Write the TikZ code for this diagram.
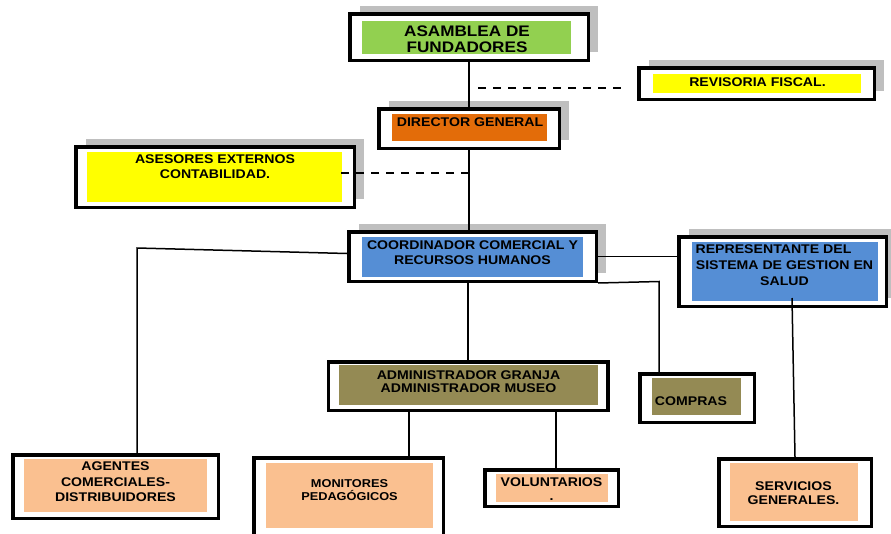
\documentclass[tikz,border=0pt]{standalone}
\usepackage{fontspec}
\setmainfont[FakeStretch=1.12]{Liberation Sans}
\usetikzlibrary{shadows}
\definecolor{grn}{HTML}{92D050}
\definecolor{ylw}{HTML}{FFFF00}
\definecolor{org}{HTML}{E36C09}
\definecolor{blu}{HTML}{558ED5}
\definecolor{olv}{HTML}{948A54}
\definecolor{pch}{HTML}{FAC090}

\begin{document}
\begin{tikzpicture}[x=1pt,y=-1pt,
	fram/.style={draw, line width=3.5pt, fill=white, inner sep=0pt},
	shad/.style={general shadow={fill=black!25, shadow xshift=10pt, shadow yshift=8pt}},
	pane/.style={inner sep=0pt},
	txt/.style={font=\bfseries\fontsize{12.6}{15}\selectfont, align=center, inner sep=0pt},
	lin/.style={line width=1.5pt},
	dsh/.style={line width=1.5pt, dash pattern=on 8pt off 7pt}]
	\useasboundingbox (0,0) rectangle (891,533);
	\node [fram, shad, minimum width=238.5pt, minimum height=46.5pt] (asam) at (469,37) {};
	\node [pane, fill=grn, minimum width=209pt, minimum height=33pt] (asam-f) at (466.5,37.5) {};
	\node [txt, font=\bfseries\fontsize{15.3}{16}\selectfont] (asam-t) at (467,39) {ASAMBLEA DE\\FUNDADORES};
	\node [fram, shad, minimum width=235.5pt, minimum height=31.5pt] (rev) at (756.5,83.5) {};
	\node [pane, fill=ylw, minimum width=208pt, minimum height=19pt] (rev-f) at (757,83.5) {};
	\node [txt] (rev-t) at (757.5,82.5) {REVISORIA FISCAL.};
	\node [fram, shad, minimum width=180.5pt, minimum height=39.5pt] (dir) at (469,128.5) {};
	\node [pane, fill=org, minimum width=155pt, minimum height=27pt] (dir-f) at (469.5,127.5) {};
	\node [txt] (dir-t) at (470,122) {DIRECTOR GENERAL};
	\node [fram, shad, minimum width=278.5pt, minimum height=60.5pt] (ases) at (215,177) {};
	\node [pane, fill=ylw, minimum width=255pt, minimum height=50pt] (ases-f) at (214.5,177) {};
	\node [txt] (ases-t) at (215,167) {ASESORES EXTERNOS\\CONTABILIDAD.};
	\node [fram, shad, minimum width=247.5pt, minimum height=49.5pt] (coord) at (472.5,256.5) {};
	\node [pane, fill=blu, minimum width=221pt, minimum height=40pt] (coord-f) at (472.5,257) {};
	\node [txt] (coord-t) at (472.5,253) {COORDINADOR COMERCIAL Y\\RECURSOS HUMANOS};
	\node [fram, shad, minimum width=207.5pt, minimum height=69.5pt] (rep) at (782.5,271.5) {};
	\node [pane, fill=blu, minimum width=186pt, minimum height=59pt] (rep-f) at (785,271.5) {};
	\node [txt, font=\bfseries\fontsize{12.6}{16}\selectfont] (rep-t) at (784.5,265.5) {REPRESENTANTE DEL\rule{22pt}{0pt}\\SISTEMA DE GESTION EN\\SALUD};
	\node [fram, minimum width=279.5pt, minimum height=48.5pt] (adm) at (468,386) {};
	\node [pane, fill=olv, minimum width=259pt, minimum height=40pt] (adm-f) at (468.5,385) {};
	\node [txt, font=\bfseries\fontsize{12.6}{13.4}\selectfont] (adm-t) at (468.5,381.7) {ADMINISTRADOR GRANJA\\ADMINISTRADOR MUSEO};
	\node [fram, minimum width=114.5pt, minimum height=48.5pt] (comp) at (697,398) {};
	\node [pane, fill=olv, minimum width=89pt, minimum height=37pt] (comp-f) at (696.5,396.5) {};
	\node [txt] (comp-t) at (691,401.5) {COMPRAS};
	\node [fram, minimum width=205.5pt, minimum height=63.5pt] (agen) at (115.5,486.5) {};
	\node [pane, fill=pch, minimum width=183pt, minimum height=53pt] (agen-f) at (115.5,485.5) {};
	\node [txt, font=\bfseries\fontsize{12.6}{15.5}\selectfont] (agen-t) at (115.5,482) {AGENTES\\COMERCIALES-\\DISTRIBUIDORES};
	\node [fram, minimum width=189.5pt, minimum height=85.5pt] (moni) at (348.5,500.5) {};
	\node [pane, fill=pch, minimum width=167pt, minimum height=65pt] (moni-f) at (349.5,495.5) {};
	\node [txt, font=\bfseries\fontsize{11.4}{13.4}\selectfont] (moni-t) at (349.5,490) {MONITORES\\PEDAGÓGICOS};
	\node [fram, minimum width=133.5pt, minimum height=36.5pt] (vol) at (551.5,488) {};
	\node [pane, fill=pch, minimum width=112pt, minimum height=28pt] (vol-f) at (552,488) {};
	\node [txt, font=\bfseries\fontsize{12.6}{14}\selectfont] (vol-t) at (551.5,489) {VOLUNTARIOS\\.};
	\node [fram, minimum width=152.5pt, minimum height=67.5pt] (serv) at (795,492.5) {};
	\node [pane, fill=pch, minimum width=128pt, minimum height=58pt] (serv-f) at (794,492) {};
	\node [txt, font=\bfseries\fontsize{12.6}{14}\selectfont] (serv-t) at (793.5,493) {SERVICIOS\\GENERALES.};
	\coordinate (revk) at (469,88);
	\coordinate (asek) at (469,173);
	\coordinate (agek) at (137,248);
	\coordinate (comk) at (659,281.5);
	\coordinate (monk) at (409,430);
	\coordinate (volk) at (556,440);
	\coordinate (serk) at (792,298);
	\draw [lin] (asam) -- (dir);
	\draw [lin] (dir.south) -- (dir.south |- coord.north);
	\draw [lin] (adm.north |- coord.south) -- (adm.north);
	\draw [dsh, shorten <=9pt, shorten >=12pt] (revk) -- (revk -| rev.west);
	\draw [dsh, shorten >=-7pt] (asek) -- (asek -| ases-f.east);
	\draw [lin] ([yshift=3pt]coord.west) -- (agek) -- (agek |- agen.north);
	\draw [lin] (coord.east) -- (coord.east -| rep.west);
	\draw [lin] (coord.south east) -- (comk) -- (comk |- comp.north);
	\draw [lin] (monk |- adm.south) -- (monk |- moni.north);
	\draw [lin] (volk |- adm.south) -- (volk |- vol.north);
	\draw [lin] (serk) -- (serv.north);
\end{tikzpicture}
\end{document}
